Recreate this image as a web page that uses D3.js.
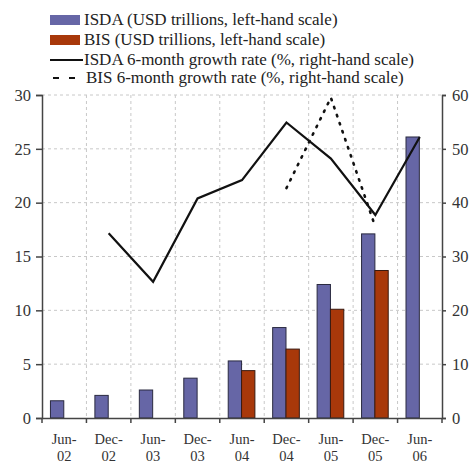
<!DOCTYPE html>
<html><head><meta charset="utf-8">
<script src="https://cdn.jsdelivr.net/npm/d3@7"></script>
<style>
body{margin:0;background:#fff;}
svg{display:block;}
svg text{font-family:"Liberation Serif","DejaVu Serif",serif;}
</style></head>
<body>
<svg id="c" width="469" height="465"></svg>
<script>
const categories = ["Jun-02","Dec-02","Jun-03","Dec-03","Jun-04","Dec-04","Jun-05","Dec-05","Jun-06"];
const isdaValues = [1.6, 2.1, 2.6, 3.7, 5.3, 8.4, 12.4, 17.1, 26.1];
const bisValues = [null, null, null, null, 4.4, 6.4, 10.1, 13.7, null];
const isdaGrowth = [null, 34.3, 25.3, 40.8, 44.2, 54.9, 48.2, 37.7, 52.2];
const bisGrowth = [null, null, null, null, null, 42.7, 59.5, 35.5, null];
const leftTicks = [0,5,10,15,20,25,30];
const rightTicks = [0,10,20,30,40,50,60];
const legendLabels = ["ISDA (USD trillions, left-hand scale)","BIS (USD trillions, left-hand scale)","ISDA 6-month growth rate (%, right-hand scale)","BIS 6-month growth rate (%, right-hand scale)"];

const FONT = "Liberation Serif, DejaVu Serif, serif";
const svg = d3.select("#c");
const L = 42, R = 442, T = 95, B = 418;
const x = d3.scaleBand().domain(categories).range([L, R]).paddingInner(0).paddingOuter(0);
const yL = d3.scaleLinear().domain([0,30]).range([B, T]);
const yR = d3.scaleLinear().domain([0,60]).range([B, T]);
const COL_ISDA = "#6666a6", COL_BIS = "#a8380a";

// grid
const grid = svg.append("g").attr("stroke","#c8c8c8").attr("stroke-width",1).attr("stroke-dasharray","3,3");
leftTicks.filter(d=>d>0).forEach(d=>{
  grid.append("line").attr("x1",L).attr("x2",R).attr("y1",yL(d)).attr("y2",yL(d));
});
categories.slice(1).forEach(c=>{
  grid.append("line").attr("x1",x(c)).attr("x2",x(c)).attr("y1",T).attr("y2",B);
});

// bars
const bw = x.bandwidth();
const barW = bw*0.30, off = bw*0.19;
svg.append("g").selectAll("rect").data(categories.map((c,i)=>({c,v:isdaValues[i]})))
  .join("rect")
  .attr("x",d=>x(d.c)+off).attr("width",barW)
  .attr("y",d=>yL(d.v)).attr("height",d=>B-yL(d.v))
  .attr("fill",COL_ISDA).attr("stroke","#2a2a40").attr("stroke-width",1);
svg.append("g").selectAll("rect").data(categories.map((c,i)=>({c,v:bisValues[i]})).filter(d=>d.v!=null))
  .join("rect")
  .attr("x",d=>x(d.c)+off+barW).attr("width",barW)
  .attr("y",d=>yL(d.v)).attr("height",d=>B-yL(d.v))
  .attr("fill",COL_BIS).attr("stroke","#3a1a10").attr("stroke-width",1);

// lines
const line = d3.line().defined(d=>d.v!=null).x(d=>x(d.c)+bw/2).y(d=>yR(d.v));
svg.append("path").datum(categories.map((c,i)=>({c,v:isdaGrowth[i]})))
  .attr("d",line).attr("fill","none").attr("stroke","#111").attr("stroke-width",2.2);
svg.append("path").datum(categories.map((c,i)=>({c,v:bisGrowth[i]})))
  .attr("d",line).attr("fill","none").attr("stroke","#111").attr("stroke-width",2.6)
  .attr("stroke-dasharray","1.5,7").attr("stroke-linecap","round");

// axes
const axL = svg.append("g").attr("transform",`translate(${L},0)`)
  .call(d3.axisLeft(yL).tickValues(leftTicks).tickSize(6).tickPadding(5));
const axR = svg.append("g").attr("transform",`translate(${R},0)`)
  .call(d3.axisRight(yR).tickValues(rightTicks).tickSize(4).tickPadding(6));
const axB = svg.append("g").attr("transform",`translate(0,${B})`)
  .call(d3.axisBottom(x).tickSize(0).tickFormat(""));
[axL,axR,axB].forEach(a=>{
  a.attr("font-family",FONT).attr("font-size",16.5);
  a.select(".domain").attr("stroke","#444").attr("stroke-width",1.5);
  a.selectAll(".tick line").attr("stroke","#444").attr("stroke-width",1.5);
  a.selectAll("text").attr("font-family",FONT).attr("font-size",16.5).attr("fill","#333");
});
// bottom ticks at category boundaries
const bt = svg.append("g").attr("stroke","#444").attr("stroke-width",1.5);
categories.forEach(c=>bt.append("line").attr("x1",x(c)).attr("x2",x(c)).attr("y1",B).attr("y2",B+5));
bt.append("line").attr("x1",R).attr("x2",R).attr("y1",B).attr("y2",B+5);
// bottom labels
const bl = svg.append("g").attr("font-family",FONT).attr("font-size",14.5).attr("fill","#333").attr("text-anchor","middle");
categories.forEach(c=>{
  const [m,yy] = c.split("-");
  bl.append("text").attr("x",x(c)+bw/2).attr("y",444).text(m+"-");
  bl.append("text").attr("x",x(c)+bw/2).attr("y",460.5).text(yy);
});

// legend
const lg = svg.append("g").attr("font-family",FONT).attr("font-size",17).attr("fill","#222");
const rowsY = [20, 40, 60, 78];
lg.append("rect").attr("x",50).attr("y",rowsY[0]-5).attr("width",30).attr("height",10).attr("fill",COL_ISDA);
lg.append("rect").attr("x",50).attr("y",rowsY[1]-5).attr("width",30).attr("height",10).attr("fill",COL_BIS);
lg.append("line").attr("x1",50).attr("x2",83).attr("y1",rowsY[2]).attr("y2",rowsY[2]).attr("stroke","#111").attr("stroke-width",2.2);
lg.append("line").attr("x1",53).attr("x2",76).attr("y1",rowsY[3]).attr("y2",rowsY[3]).attr("stroke","#111").attr("stroke-width",2).attr("stroke-dasharray","6,10");
legendLabels.forEach((t,i)=>{
  lg.append("text").attr("x",i===3?86:84).attr("y",rowsY[i]+5).text(t);
});
</script>
</body></html>
